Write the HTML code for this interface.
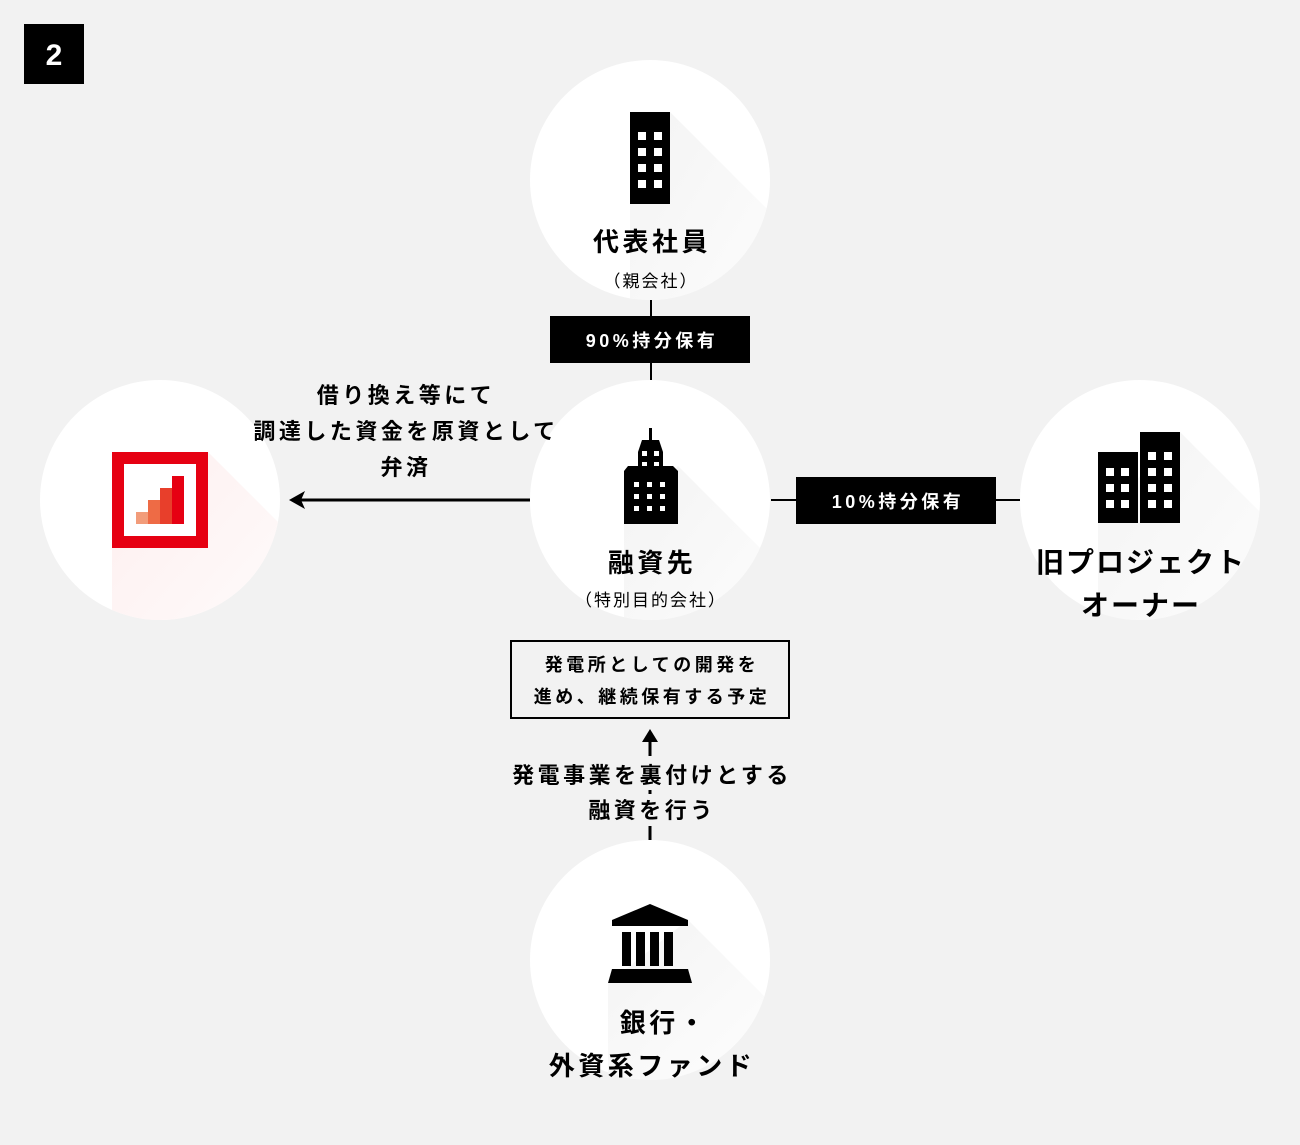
<!DOCTYPE html>
<html><head><meta charset="utf-8"><style>
html,body{margin:0;padding:0;background:#f2f2f2}
svg text{font-family:"Liberation Sans","Noto Sans CJK JP",sans-serif}
.ls{letter-spacing:3.5px}
.ls2{letter-spacing:2px}
</style></head><body>
<svg width="1300" height="1140" viewBox="0 0 1300 1140" xmlns="http://www.w3.org/2000/svg">
<defs>
<linearGradient id="sh" x1="0" y1="0" x2="1" y2="1"><stop offset="0" stop-color="#e8e8e8"/><stop offset="1" stop-color="#fff"/></linearGradient>
<linearGradient id="shr" x1="0" y1="0" x2="1" y2="1"><stop offset="0" stop-color="#fde8e8"/><stop offset="1" stop-color="#fff"/></linearGradient>
<clipPath id="c1"><circle cx="650" cy="180" r="120"/></clipPath>
<clipPath id="c2"><circle cx="650" cy="500" r="120"/></clipPath>
<clipPath id="c3"><circle cx="160" cy="500" r="120"/></clipPath>
<clipPath id="c4"><circle cx="1140" cy="500" r="120"/></clipPath>
<clipPath id="c5"><circle cx="650" cy="960" r="120"/></clipPath>
</defs>
<rect x="24" y="24" width="60" height="60" fill="#000"/>
<text x="54" y="65" font-size="30" font-weight="bold" fill="#fff" text-anchor="middle">2</text>

<circle cx="650" cy="180" r="120" fill="#fff"/>
<circle cx="650" cy="500" r="120" fill="#fff"/>
<circle cx="160" cy="500" r="120" fill="#fff"/>
<circle cx="1140" cy="500" r="120" fill="#fff"/>
<circle cx="650" cy="960" r="120" fill="#fff"/>
<polygon clip-path="url(#c1)" points="670,112 800,242 800,400 630,400 630,204" fill="url(#sh)" opacity="0.5"/>
<polygon clip-path="url(#c2)" points="678,466 800,588 800,700 624,700 624,524" fill="url(#sh)" opacity="0.5"/>
<polygon clip-path="url(#c3)" points="208,452 330,574 330,700 112,700 112,548" fill="url(#shr)" opacity="0.7"/>
<polygon clip-path="url(#c4)" points="1180,432 1300,552 1300,700 1098,700 1098,523" fill="url(#sh)" opacity="0.5"/>
<polygon clip-path="url(#c5)" points="688,920 800,1032 800,1100 608,1100 608,983" fill="url(#sh)" opacity="0.5"/>

<rect x="630" y="112" width="40" height="92" fill="#000"/>
<g fill="#fff">
<rect x="638" y="132" width="8" height="8"/><rect x="654" y="132" width="8" height="8"/>
<rect x="638" y="148" width="8" height="8"/><rect x="654" y="148" width="8" height="8"/>
<rect x="638" y="164" width="8" height="8"/><rect x="654" y="164" width="8" height="8"/>
<rect x="638" y="180" width="8" height="8"/><rect x="654" y="180" width="8" height="8"/>
</g>
<text class="ls" x="652" y="251" font-size="26" font-weight="bold" text-anchor="middle">代表社員</text>
<text class="ls2" x="651" y="287" font-size="17" text-anchor="middle">（親会社）</text>
<line x1="651" y1="300" x2="651" y2="380" stroke="#000" stroke-width="2"/>
<rect x="550" y="316" width="200" height="47" fill="#000"/>
<text class="ls" x="652" y="347" font-size="18" font-weight="bold" fill="#fff" text-anchor="middle">90%持分保有</text>

<rect x="649" y="428" width="3" height="12" fill="#000"/>
<polygon points="642,440 659,440 663,452 663,466 638,466 638,452" fill="#000"/>
<polygon points="628,466 673,466 678,471 678,524 624,524 624,471" fill="#000"/>
<g fill="#fff">
<rect x="642" y="451" width="5" height="5"/><rect x="654" y="451" width="5" height="5"/>
<rect x="642" y="462" width="5" height="4"/><rect x="654" y="462" width="5" height="4"/>
<rect x="634" y="482" width="5" height="5"/><rect x="647" y="482" width="5" height="5"/><rect x="660" y="482" width="5" height="5"/>
<rect x="634" y="494" width="5" height="5"/><rect x="647" y="494" width="5" height="5"/><rect x="660" y="494" width="5" height="5"/>
<rect x="634" y="506" width="5" height="5"/><rect x="647" y="506" width="5" height="5"/><rect x="660" y="506" width="5" height="5"/>
</g>
<text class="ls" x="652" y="572" font-size="26" font-weight="bold" text-anchor="middle">融資先</text>
<text class="ls2" x="651" y="606" font-size="17" text-anchor="middle">（特別目的会社）</text>

<rect x="118" y="458" width="84" height="84" fill="#fff" stroke="#e60012" stroke-width="12"/>
<rect x="136" y="512" width="12" height="12" fill="#f29c7a"/>
<rect x="148" y="500" width="12" height="24" fill="#ee6b45"/>
<rect x="160" y="488" width="12" height="36" fill="#e83f2b"/>
<rect x="172" y="476" width="12" height="48" fill="#e60012"/>

<line x1="300" y1="500" x2="530" y2="500" stroke="#000" stroke-width="3"/>
<polygon points="289,500 305,491 301,500 305,509" fill="#000"/>
<g class="ls" font-size="22" font-weight="bold" text-anchor="middle">
<text x="406" y="403">借り換え等にて</text>
<text x="406" y="439">調達した資金を原資として</text>
<text x="406" y="475">弁済</text>
</g>

<line x1="771" y1="500" x2="1020" y2="500" stroke="#000" stroke-width="2"/>
<rect x="796" y="477" width="200" height="47" fill="#000"/>
<text class="ls" x="898" y="508" font-size="18" font-weight="bold" fill="#fff" text-anchor="middle">10%持分保有</text>
<rect x="1098" y="452" width="40" height="71" fill="#000"/>
<rect x="1140" y="432" width="40" height="91" fill="#000"/>
<g fill="#fff">
<rect x="1106" y="468" width="8" height="8"/><rect x="1121" y="468" width="8" height="8"/>
<rect x="1106" y="484" width="8" height="8"/><rect x="1121" y="484" width="8" height="8"/>
<rect x="1106" y="500" width="8" height="8"/><rect x="1121" y="500" width="8" height="8"/>
<rect x="1148" y="452" width="8" height="8"/><rect x="1164" y="452" width="8" height="8"/>
<rect x="1148" y="468" width="8" height="8"/><rect x="1164" y="468" width="8" height="8"/>
<rect x="1148" y="484" width="8" height="8"/><rect x="1164" y="484" width="8" height="8"/>
<rect x="1148" y="500" width="8" height="8"/><rect x="1164" y="500" width="8" height="8"/>
</g>
<text class="ls2" x="1141" y="572" font-size="28" font-weight="bold" text-anchor="middle">旧プロジェクト</text>
<text class="ls2" x="1141" y="615" font-size="28" font-weight="bold" text-anchor="middle">オーナー</text>

<rect x="511" y="641" width="278" height="77" fill="none" stroke="#000" stroke-width="2"/>
<text class="ls" x="652" y="671" font-size="18" font-weight="bold" text-anchor="middle">発電所としての開発を</text>
<text class="ls" x="652" y="703" font-size="18" font-weight="bold" text-anchor="middle">進め、継続保有する予定</text>

<polygon points="650,729 642,742 658,742" fill="#000"/>
<line x1="650" y1="740" x2="650" y2="756" stroke="#000" stroke-width="3"/>
<line x1="650" y1="790" x2="650" y2="794" stroke="#000" stroke-width="3"/>
<line x1="650" y1="826" x2="650" y2="840" stroke="#000" stroke-width="3"/>
<text class="ls" x="652" y="783" font-size="22" font-weight="bold" text-anchor="middle">発電事業を裏付けとする</text>
<text class="ls" x="652" y="818" font-size="22" font-weight="bold" text-anchor="middle">融資を行う</text>

<polygon points="650,904 612,920 612,926 688,926 688,920" fill="#000"/>
<rect x="622" y="932" width="9" height="34" fill="#000"/>
<rect x="636" y="932" width="9" height="34" fill="#000"/>
<rect x="650" y="932" width="9" height="34" fill="#000"/>
<rect x="664" y="932" width="9" height="34" fill="#000"/>
<polygon points="612,969 688,969 692,983 608,983" fill="#000"/>
<text class="ls" x="664" y="1032" font-size="26" font-weight="bold" text-anchor="middle">銀行・</text>
<text class="ls" x="652" y="1075" font-size="26" font-weight="bold" text-anchor="middle">外資系ファンド</text>
</svg>
</body></html>
